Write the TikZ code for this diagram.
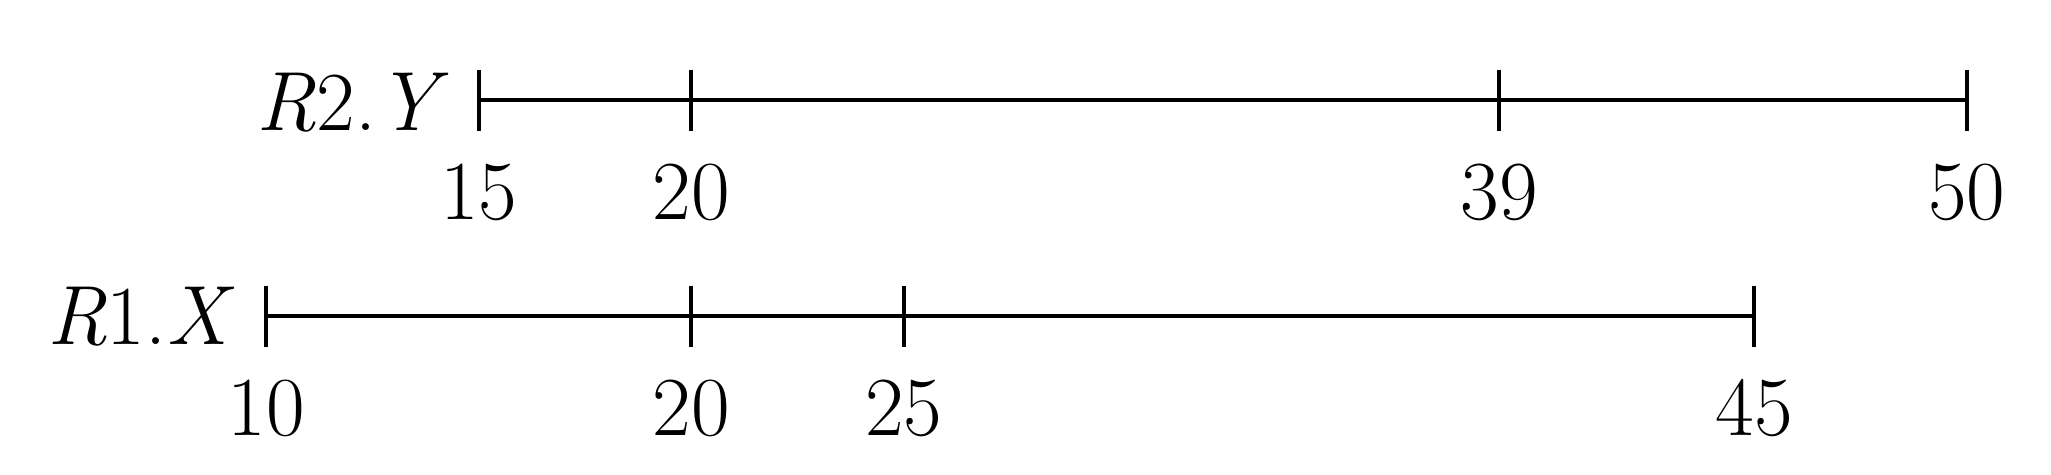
\documentclass[tikz,border=0pt]{standalone}
\usepackage{fontspec}
\setmainfont{Latin Modern Roman}
\begin{document}
\begin{tikzpicture}[x=0.5pt,y=-0.5pt,
  axisline/.style={line width=1.75pt},
  tickmark/.style={line width=2pt},
  lbl/.style={font=\fontsize{42}{50}\selectfont, inner sep=0pt}]
\useasboundingbox (0,0) rectangle (2051,475);
% R2.Y axis
\foreach \v/\n in {15/a,20/b,39/c,50/d} {
  \coordinate (t2\n) at ({-159.2+42.52*\v},100);
  \coordinate (t2\n-top) at ({-159.2+42.52*\v},70);
  \coordinate (t2\n-bot) at ({-159.2+42.52*\v},131);
  \draw[tickmark] (t2\n-top) -- (t2\n-bot);
  \node[lbl, anchor=base] (n2\n) at ({-159.2+42.52*\v},220) {\v};
}
\draw[axisline] (t2a) -- (t2d);
\node[lbl, anchor=base east] (L2) at (449,131) {\textit{R}2.\textit{Y}};
% R1.X axis
\foreach \v/\n in {10/a,20/b,25/c,45/d} {
  \coordinate (t1\n) at ({-159.2+42.52*\v},316);
  \coordinate (t1\n-top) at ({-159.2+42.52*\v},286);
  \coordinate (t1\n-bot) at ({-159.2+42.52*\v},347);
  \draw[tickmark] (t1\n-top) -- (t1\n-bot);
  \node[lbl, anchor=base] (n1\n) at ({-159.2+42.52*\v},436) {\v};
}
\draw[axisline] (t1a) -- (t1d);
\node[lbl, anchor=base east] (L1) at (235,345) {\textit{R}1.\textit{X}};
\end{tikzpicture}
\end{document}
